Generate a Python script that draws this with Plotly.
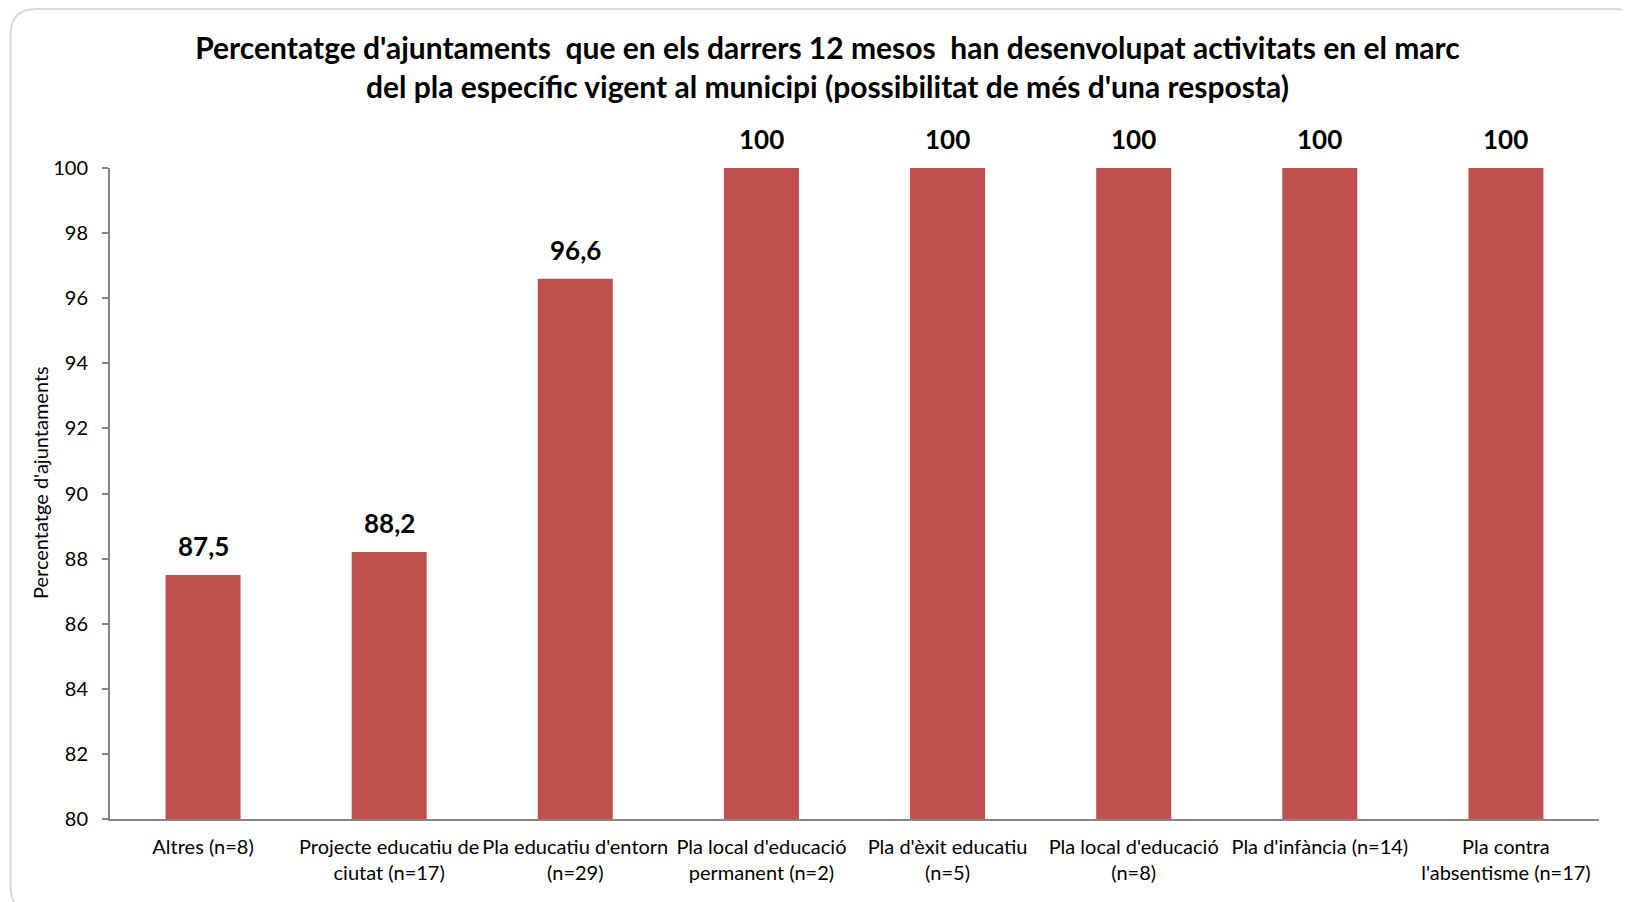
import plotly.graph_objects as go

categories = [
    "Altres (n=8)",
    "Projecte educatiu de<br>ciutat (n=17)",
    "Pla educatiu d'entorn<br>(n=29)",
    "Pla local d'educació<br>permanent (n=2)",
    "Pla d'èxit educatiu<br>(n=5)",
    "Pla local d'educació<br>(n=8)",
    "Pla d'infància (n=14)",
    "Pla contra<br>l'absentisme (n=17)",
]
values = [87.5, 88.2, 96.6, 100, 100, 100, 100, 100]
value_labels = ["87,5", "88,2", "96,6", "100", "100", "100", "100", "100"]
y_ticks = [80, 82, 84, 86, 88, 90, 92, 94, 96, 98, 100]

FONT = "Lato"
W, H = 1630, 902
# the page body adds an 8px offset; positions below are in figure pixels
L, R, T, B = 101.5, 39, 160, 91

def px(x):
    return (x - L) / (W - L - R)

def py(y):
    return (H - B - y) / (H - T - B)

fig = go.Figure(go.Bar(
    x=categories, y=values,
    marker=dict(color="#C0504D", line=dict(width=0)),
    hoverinfo="x+y",
    cliponaxis=False,
))

for c, v, lab in zip(categories, values, value_labels):
    fig.add_annotation(
        x=c, y=v, text="<b>" + lab + "</b>", showarrow=False,
        yanchor="middle", yshift=29,
        font=dict(size=26, family=FONT, color="#000000"),
    )

# y-axis title
fig.add_annotation(
    xref="paper", yref="paper", x=px(31.5), y=py(475),
    text="Percentatge d'ajuntaments", textangle=-90, showarrow=False,
    xanchor="center", yanchor="middle",
    font=dict(size=20, family=FONT, color="#000000"),
)

# rounded chart border
x0, x1, y0, y1, r = 2, 1634, 1, 904, 26
path = (
    f"M {px(x0 + r)},{py(y0)} L {px(x1 - r)},{py(y0)} "
    f"Q {px(x1)},{py(y0)} {px(x1)},{py(y0 + r)} "
    f"L {px(x1)},{py(y1 - r)} Q {px(x1)},{py(y1)} {px(x1 - r)},{py(y1)} "
    f"L {px(x0 + r)},{py(y1)} Q {px(x0)},{py(y1)} {px(x0)},{py(y1 - r)} "
    f"L {px(x0)},{py(y0 + r)} Q {px(x0)},{py(y0)} {px(x0 + r)},{py(y0)} Z"
)

fig.update_layout(
    width=W, height=H,
    margin=dict(l=L, r=R, t=T, b=B),
    paper_bgcolor="white", plot_bgcolor="white",
    bargap=0.597,
    showlegend=False,
    font=dict(family=FONT, color="#000000"),
    title=dict(
        text="<b>Percentatge d'ajuntaments  que en els darrers 12 mesos  han desenvolupat activitats en el marc<br>del pla específic vigent al municipi (possibilitat de més d'una resposta)</b>",
        x=819.5 / W, xanchor="center", y=1 - 51 / H, yanchor="middle",
        font=dict(size=30, family=FONT, color="#000000"),
    ),
    xaxis=dict(
        automargin=False,
        showline=True, linecolor="#868686", linewidth=2,
        ticks="", ticklabelstandoff=9,
        tickfont=dict(size=20, family=FONT, color="#000000"),
        showgrid=False,
    ),
    yaxis=dict(
        automargin=False,
        range=[80, 100], tickvals=y_ticks,
        showline=True, linecolor="#868686", linewidth=2,
        ticks="outside", ticklen=6, tickcolor="#868686", tickwidth=1.5,
        ticklabelstandoff=10,
        tickfont=dict(size=20, family=FONT, color="#000000"),
        showgrid=False, zeroline=False,
    ),
    shapes=[dict(
        type="path", xref="paper", yref="paper", path=path,
        line=dict(color="#D9D9D9", width=2), layer="below",
    )],
)

fig.write_html("out.html")
